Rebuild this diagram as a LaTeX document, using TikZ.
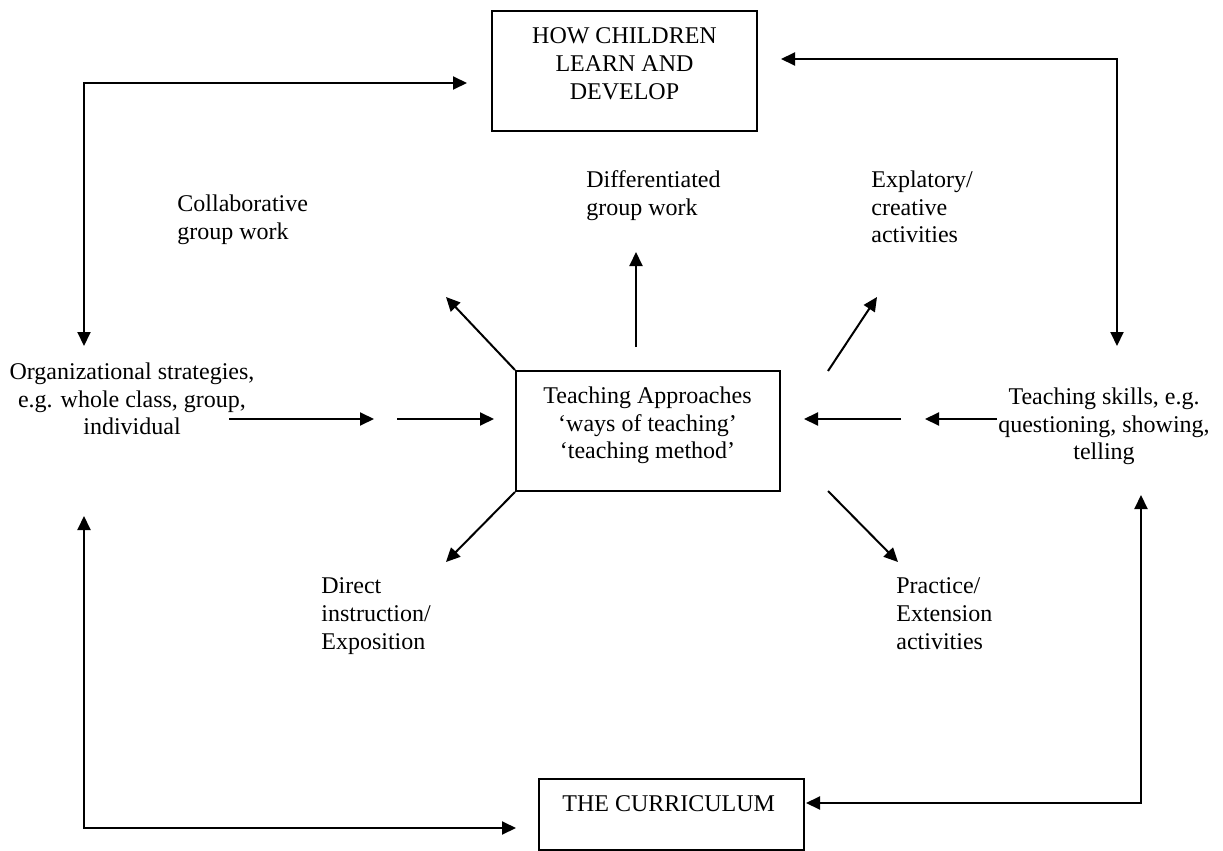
\documentclass[tikz,border=0pt]{standalone}
\usepackage{fontspec}
\setmainfont{Liberation Serif}
\usetikzlibrary{arrows.meta}
\begin{document}
\begin{tikzpicture}[x=0.5pt,y=-0.5pt,
  txt/.style={inner sep=0pt, font=\fontsize{12pt}{13.8pt}\selectfont},
  box/.style={draw, line width=1pt, inner sep=0pt},
  tip/.tip={Triangle[length=7pt,width=6.5pt]},
  conn/.style={line width=1pt, -tip},
  biconn/.style={line width=1pt, tip-tip}]
\useasboundingbox (0,0) rectangle (1223,851);

% framed boxes
\node[box, minimum width=132.5pt, minimum height=60pt] (how) at (624.5,71) {};
\node[box, minimum width=132pt, minimum height=60pt] (tp) at (648,431) {};
\node[box, minimum width=132.5pt, minimum height=35.5pt] (cur) at (671.5,814.5) {};

% box texts
\node[txt, anchor=north, align=center] (howtxt) at (624.5,27.6) {HOW CHILDREN\\LEARN AND\\DEVELOP};
\node[txt, anchor=north, align=center] (tptxt) at (647.5,386.6) {Teaching Approaches\\‘ways of teaching’\\‘teaching method’};
\node[txt, anchor=north west] (curtxt) at (562,795.6) {THE CURRICULUM};

% free labels
\node[txt, anchor=north west, align=left] (collab) at (177,194.6) {Collaborative\\group work};
\node[txt, anchor=north west, align=left] (diff) at (586,170.6) {Differentiated\\group work};
\node[txt, anchor=north west, align=left] (expl) at (871,170.6) {Explatory/\\creative\\activities};
\node[txt, anchor=north, align=center] (org) at (132,362.6) {Organizational strategies,\\e.g. whole class, group,\\individual};
\node[txt, anchor=north, align=center] (skills) at (1104,387.6) {Teaching skills, e.g.\\questioning, showing,\\telling};
\node[txt, anchor=north west, align=left] (direct) at (321,577.6) {Direct\\instruction/\\Exposition};
\node[txt, anchor=north west, align=left] (prac) at (896,577.6) {Practice/\\Extension\\activities};

% outer loop corners and ends
\coordinate (tl) at (84,83);
\coordinate (tlv) at (84,346);
\coordinate (tlh) at (467,83);
\coordinate (tr) at (1117,59);
\coordinate (trh) at (781,59);
\coordinate (trv) at (1117,346);
\coordinate (bl) at (84,828);
\coordinate (blv) at (84,516);
\coordinate (blh) at (516,828);
\coordinate (br) at (1141,803);
\coordinate (brh) at (806,803);
\coordinate (brv) at (1141,495);

\draw[biconn] (tlv) -- (tl) -- (tlh);
\draw[biconn] (trh) -- (tr) -- (trv);
\draw[biconn] (blv) -- (bl) -- (blh);
\draw[biconn] (brh) -- (br) -- (brv);

% spokes around the teaching approaches box
\coordinate (nwtip) at (446,297);
\coordinate (swtip) at (446,562);
\coordinate (upfoot) at (636,347);
\coordinate (uptip) at (636,252);
\coordinate (nefoot) at (828,371);
\coordinate (netip) at (877,297);
\coordinate (sefoot) at (828,491);
\coordinate (setip) at (898,562);

\draw[conn] (tp.north west) -- (nwtip);
\draw[conn] (tp.south west) -- (swtip);
\draw[conn] (upfoot) -- (uptip);
\draw[conn] (nefoot) -- (netip);
\draw[conn] (sefoot) -- (setip);

% broken horizontal arrows
\coordinate (la1) at (229,419);
\coordinate (la2) at (374,419);
\coordinate (la3) at (397,419);
\coordinate (la4) at (494,419);
\coordinate (ra1) at (997,419);
\coordinate (ra2) at (925,419);
\coordinate (ra3) at (901,419);
\coordinate (ra4) at (804,419);

\draw[conn] (la1) -- (la2);
\draw[conn] (la3) -- (la4);
\draw[conn] (ra1) -- (ra2);
\draw[conn] (ra3) -- (ra4);
\end{tikzpicture}
\end{document}
